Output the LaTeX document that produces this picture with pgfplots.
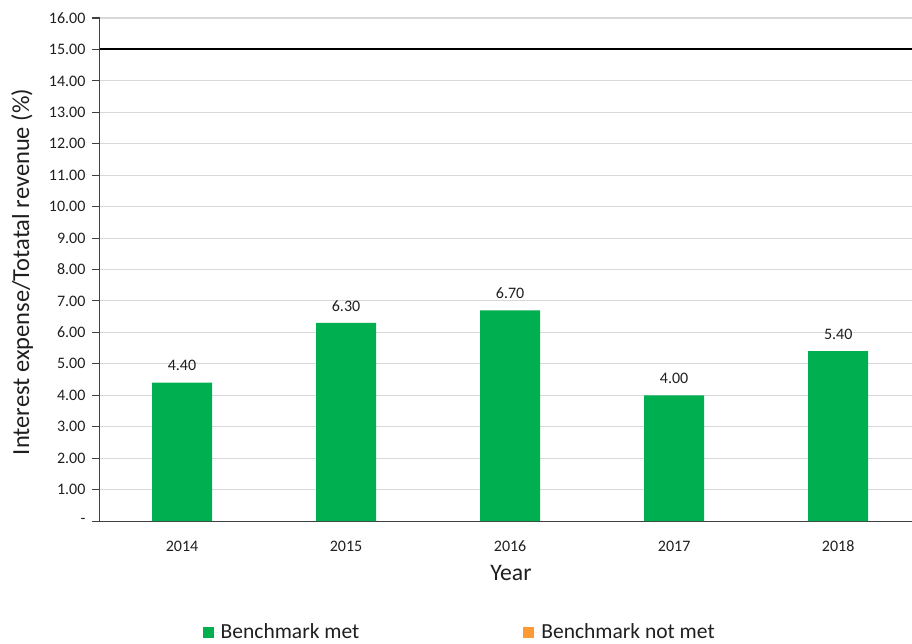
\documentclass[border=0pt]{standalone}
\usepackage{pgfplots}
\pgfplotsset{compat=1.18}
\usepackage{fontspec}
\setmainfont{Carlito}
\definecolor{barGreen}{HTML}{00B050}
\definecolor{barOrange}{HTML}{FF9933}
\definecolor{gridgray}{HTML}{D9D9D9}
\definecolor{axisgray}{HTML}{404040}
\definecolor{txt}{HTML}{1F1F1F}
\begin{document}
\begin{tikzpicture}[x=1pt,y=1pt]
\useasboundingbox (-100,-122) rectangle (812,521);
\begin{axis}[
  at={(0,0)}, anchor=south west,
  scale only axis, width=812pt, height=503pt,
  xmin=-0.5, xmax=4.45, ymin=0, ymax=16,
  /pgf/number format/assume math mode=true,
  axis x line*=bottom, axis y line*=left,
  axis line style={draw=axisgray, line width=1pt, -},
  xtick={0,1,2,3,4},
  xticklabels={2014,2015,2016,2017,2018},
  xtick style={draw=none},
  ytick={0,1,...,16},
  yticklabels={-,1.00,2.00,3.00,4.00,5.00,6.00,7.00,8.00,9.00,10.00,11.00,12.00,13.00,14.00,15.00,16.00},
  ytick style={draw=axisgray, line width=1pt},
  tick align=outside, major tick length=8pt,
  ymajorgrids, grid style={draw=gridgray, line width=1pt},
  ticklabel style={font=\fontsize{16}{18}\selectfont, text=txt},
  xticklabel style={anchor=base, yshift=-22pt},
  yticklabel style={xshift=-3pt},
  xlabel={Year}, ylabel={Interest expense/Totatal revenue (\%)},
  every axis x label/.style={at={(axis description cs:0.506,0)}, anchor=center, yshift=-52pt, font=\fontsize{23.7}{26}\selectfont, text=txt},
  every axis y label/.style={at={(axis description cs:-0.096,0.495)}, rotate=90, anchor=center, font=\fontsize{24.5}{27}\selectfont, text=txt},
  legend style={at={(axis description cs:0.443,-0.2207)}, anchor=center, draw=none, fill=none,
    font=\fontsize{21.5}{24}\selectfont, text=txt,
    /tikz/every even column/.append style={column sep=162pt}},
  legend columns=2,
  sq legend/.style={legend image code/.code={\fill[##1] (0pt,-5.5pt) rectangle (11pt,5.5pt); \path (11pt,0pt) -- (16pt,0pt);}},
]
\addplot[ybar, bar width=60pt, fill=barGreen, draw=none, sq legend,
  nodes near coords, point meta=explicit,
  nodes near coords={\pgfmathprintnumber[fixed,fixed zerofill,precision=2]{\pgfplotspointmeta}},
  every node near coord/.append style={anchor=center, yshift=17pt, font=\fontsize{16}{18}\selectfont, text=txt}]
  coordinates {(0,4.4) [4.4] (1,6.3) [6.3] (2,6.7) [6.7] (3,4.0) [4.0] (4,5.4) [5.4]};
\addlegendentry{Benchmark met}
\addlegendimage{fill=barOrange, draw=none, sq legend}
\addlegendentry{Benchmark not met}
\addplot[black, line width=2pt, forget plot] coordinates {(-0.5,15) (4.45,15)};
\end{axis}
\end{tikzpicture}
\end{document}
